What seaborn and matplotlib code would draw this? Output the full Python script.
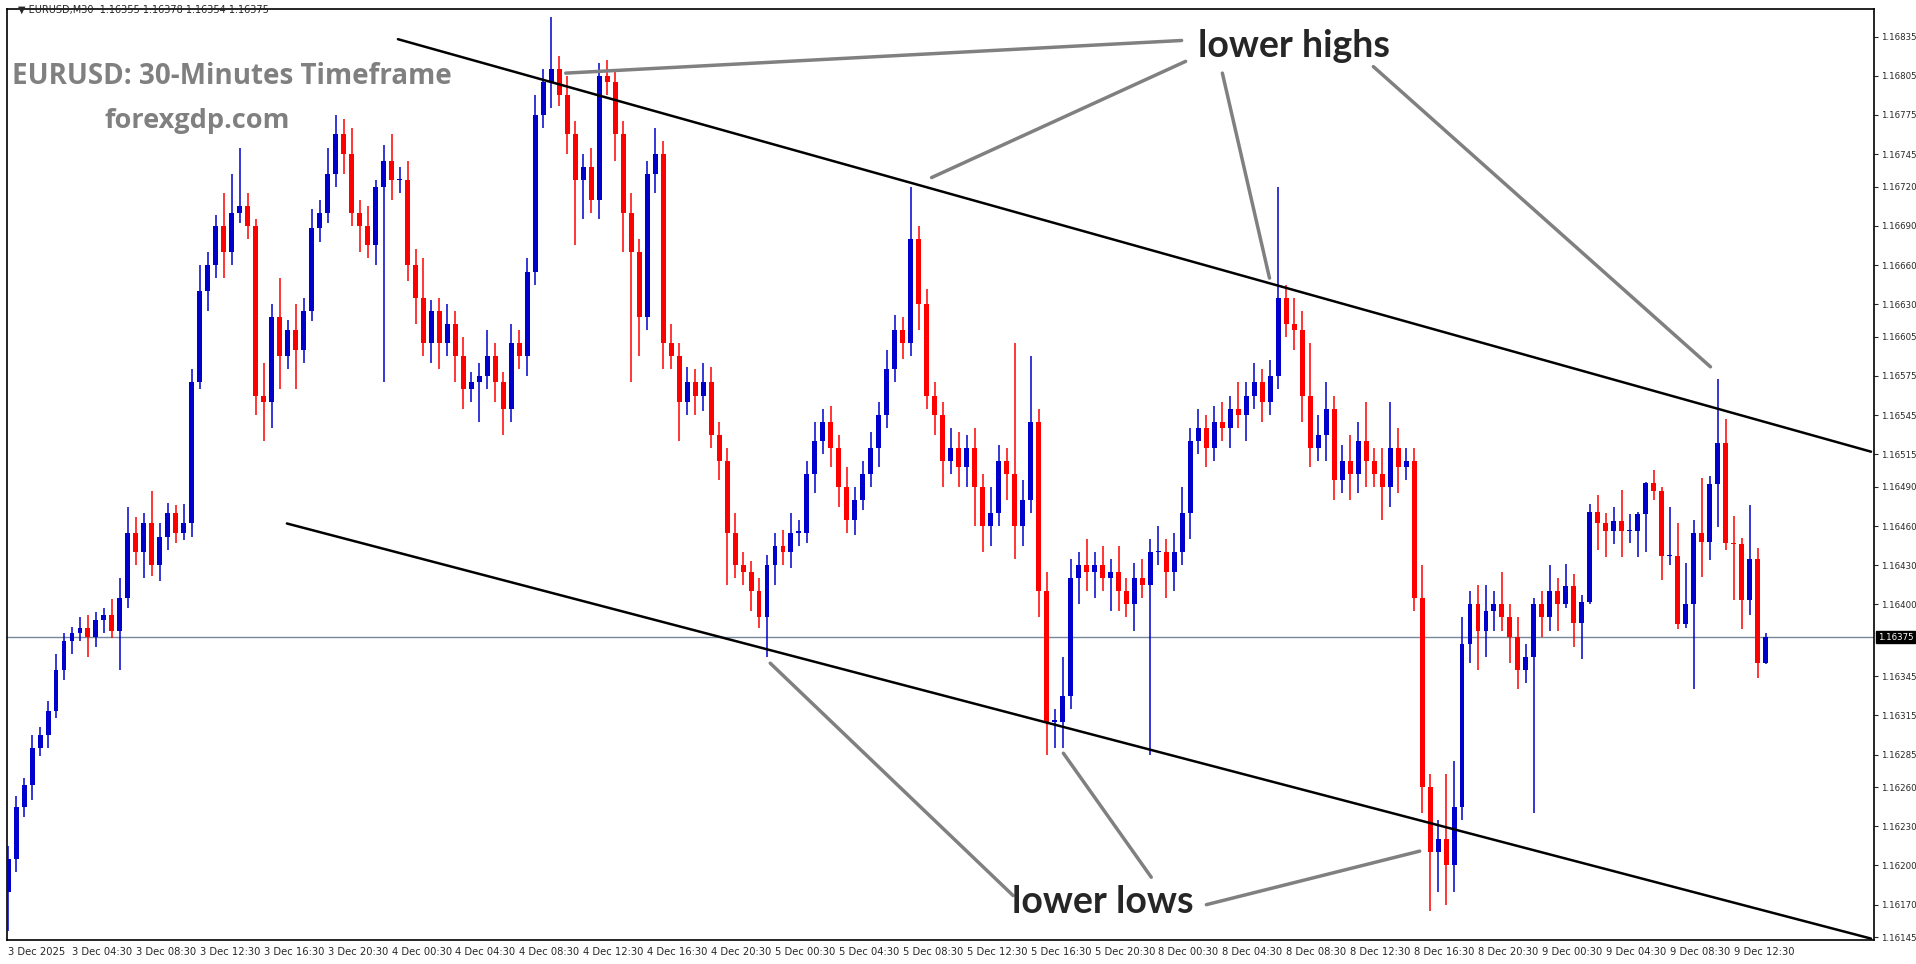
import numpy as np
import pandas as pd
import matplotlib
matplotlib.use("Agg")
import matplotlib.pyplot as plt
import seaborn as sns

# close prices in points above 1.16000 (30-minute bars)
closes = [
    205, 245, 262, 290, 300, 318, 350, 372,
    378, 382, 375, 388, 392, 380, 405, 455,
    440, 462, 430, 452, 470, 455, 462, 570,
    640, 660, 690, 670, 700, 705, 690, 560,
    555, 620, 590, 610, 595, 625, 688, 700,
    730, 760, 745, 700, 690, 675, 720, 740,
    725, 725, 660, 635, 600, 625, 600, 615,
    590, 565, 570, 575, 590, 570, 550, 600,
    590, 655, 775, 800, 810, 790, 760, 725,
    735, 710, 805, 800, 760, 700, 670, 620,
    730, 745, 600, 590, 555, 570, 560, 570,
    530, 510, 455, 430, 425, 410, 390, 430,
    445, 440, 455, 455, 500, 525, 540, 520,
    490, 465, 480, 500, 520, 545, 580, 610,
    600, 680, 630, 560, 545, 510, 520, 505,
    520, 490, 460, 470, 510, 500, 460, 480,
    540, 410, 310, 310, 330, 420, 430, 425,
    430, 420, 425, 410, 400, 420, 415, 440,
    440, 425, 440, 470, 525, 535, 520, 540,
    535, 550, 545, 560, 570, 555, 575, 635,
    615, 610, 560, 520, 530, 550, 495, 510,
    500, 525, 510, 500, 490, 520, 505, 510,
    405, 260, 210, 220, 200, 245, 370, 400,
    380, 395, 400, 390, 375, 350, 360, 400,
    390, 410, 400,
    414, 386, 402, 471, 462, 456, 464, 456, 456, 469, 493, 487, 437,
    437, 385, 400, 455, 448, 492, 524, 447, 446, 403, 435, 355, 375,
]
upper_wick = [
    10, 8, 5, 10, 6, 8, 12, 6,
    5, 8, 10, 6, 5, 12, 15, 20,
    12, 8, 25, 10, 8, 6, 15, 10,
    20, 10, 8, 25, 30, 45, 10, 5,
    25, 10, 30, 8, 20, 10, 15, 10,
    20, 15, 12, 20, 10, 15, 5, 12,
    20, 10, 15, 12, 30, 8, 10, 15,
    10, 15, 8, 10, 20, 10, 8, 15,
    10, 10, 15, 10, 40, 10, 15, 10,
    10, 15, 10, 12, 10, 10, 15, 10,
    10, 20, 10, 15, 10, 12, 10, 15,
    12, 10, 10, 15, 10, 8, 10, 8,
    10, 12, 15, 10, 10, 15, 10, 12,
    10, 15, 10, 10, 12, 10, 15, 12,
    10, 40, 10, 12, 10, 10, 15, 12,
    10, 15, 10, 20, 12, 10, 100, 15,
    50, 10, 15, 10, 30, 15, 10, 20,
    10, 15, 10, 20, 10, 12, 15, 10,
    20, 10, 15, 20, 10, 15, 10, 12,
    15, 10, 20, 10, 15, 10, 12, 85,
    10, 20, 15, 40, 15, 20, 10, 12,
    20, 15, 30, 10, 20, 35, 15, 10,
    10, 25, 10, 15, 50, 35, 20, 10,
    15, 20, 10, 25, 10, 15, 10, 5,
    10, 20, 10,
    17, 9, 5, 6, 13, 8, 11, 24, 13, 2, 1, 10, 3,
    38, 25, 32, 10, 42, 6, 49, 18, 21, 5, 41, 8, 3,
]
lower_wick = [
    30, 10, 8, 12, 6, 10, 5, 8,
    10, 6, 15, 8, 10, 6, 30, 8,
    10, 20, 8, 12, 10, 8, 6, 10,
    5, 15, 10, 20, 10, 8, 10, 15,
    30, 20, 25, 10, 30, 10, 8, 10,
    8, 10, 15, 10, 20, 10, 15, 150,
    15, 10, 12, 20, 10, 15, 20, 10,
    20, 15, 10, 30, 10, 15, 20, 10,
    10, 15, 10, 10, 20, 8, 15, 50,
    30, 10, 15, 10, 20, 30, 100, 30,
    10, 15, 20, 10, 30, 10, 15, 12,
    10, 15, 40, 10, 10, 15, 8, 30,
    15, 10, 12, 10, 8, 15, 10, 15,
    15, 10, 12, 8, 10, 15, 10, 10,
    12, 10, 20, 10, 15, 20, 10, 15,
    15, 30, 20, 15, 10, 20, 25, 15,
    10, 20, 25, 20, 20, 10, 20, 15,
    20, 10, 25, 15, 10, 20, 10, 130,
    10, 20, 15, 10, 20, 10, 15, 10,
    10, 15, 10, 20, 10, 15, 10, 10,
    10, 15, 20, 15, 10, 20, 15, 10,
    20, 15, 20, 10, 25, 15, 20, 10,
    10, 20, 45, 30, 30, 20, 10, 15,
    30, 20, 15, 10, 20, 15, 10, 120,
    15, 10, 20,
    3, 19, 28, 2, 20, 20, 10, 20, 9, 20, 29, 7, 18,
    7, 4, 3, 65, 27, 14, 33, 5, 43, 22, 11, 11, 1,
]
first_open = 180

tick_labels = [
    "3 Dec 2025", "3 Dec 04:30", "3 Dec 08:30", "3 Dec 12:30", "3 Dec 16:30", "3 Dec 20:30",
    "4 Dec 00:30", "4 Dec 04:30", "4 Dec 08:30", "4 Dec 12:30", "4 Dec 16:30", "4 Dec 20:30",
    "5 Dec 00:30", "5 Dec 04:30", "5 Dec 08:30", "5 Dec 12:30", "5 Dec 16:30", "5 Dec 20:30",
    "8 Dec 00:30", "8 Dec 04:30", "8 Dec 08:30", "8 Dec 12:30", "8 Dec 16:30", "8 Dec 20:30",
    "9 Dec 00:30", "9 Dec 04:30", "9 Dec 08:30", "9 Dec 12:30",
]
price_ticks = [1.16835, 1.16805, 1.16775, 1.16745, 1.16720, 1.16690, 1.16660, 1.16630,
               1.16605, 1.16575, 1.16545, 1.16515, 1.16490, 1.16460, 1.16430, 1.16400,
               1.16345, 1.16315, 1.16285, 1.16260, 1.16230, 1.16200, 1.16170, 1.16145]
last_price = 1.16375

# channel lines drawn on the chart: (bar, price)
upper_channel = [(48.8, 1.16833), (233.2, 1.16517)]
lower_channel = [(34.9, 1.16462), (233.2, 1.16144)]

# annotation pointers: (text anchor) -> (target)
highs_pointers = [((146.9, 1.16832), (69.8, 1.16807)),
                  ((147.4, 1.16816), (115.6, 1.16727)),
                  ((152.0, 1.16807), (157.9, 1.16650)),
                  ((170.9, 1.16812), (213.1, 1.16582))]
lows_pointers = [((125.8, 1.16177), (95.4, 1.16355)),
                 ((143.1, 1.16191), (132.1, 1.16286)),
                 ((150.0, 1.16170), (176.7, 1.16211))]

df = pd.DataFrame({"close": closes, "up": upper_wick, "lo": lower_wick})
df["open"] = df["close"].shift(1).fillna(first_open)
df["high"] = df[["open", "close"]].max(axis=1) + df["up"]
df["low"] = df[["open", "close"]].min(axis=1) - df["lo"]
for c in ["open", "close", "high", "low"]:
    df[c] = 1.16 + df[c] / 1e5
df["bar"] = np.arange(len(df))
df["bull"] = df["close"] >= df["open"]

sns.set_style("white")
plt.rcParams["font.family"] = ["DejaVu Sans"]

fig = plt.figure(figsize=(19.16, 9.64), dpi=100)
ax = fig.add_axes([0.0037, 0.025, 0.9745, 0.9655])

blue = "#0000CD"
red = "#FF0000"
colors = np.where(df["bull"], blue, red)

ax.vlines(df["bar"], df["low"], df["high"], colors=colors, linewidth=1.1, zorder=3)
body = (df["close"] - df["open"]).abs().clip(lower=0.000012)
ax.bar(df["bar"], body, bottom=df[["open", "close"]].min(axis=1), width=0.62,
       color=colors, linewidth=0, zorder=4)

# channel
for line in [upper_channel, lower_channel]:
    xs, ys = zip(*line)
    ax.plot(xs, ys, color="black", linewidth=1.8, zorder=5)

for (a, b) in highs_pointers + lows_pointers:
    ax.plot([a[0], b[0]], [a[1], b[1]], color="#808080", linewidth=2.5, zorder=5)

ax.text(161, 1.16828, "lower highs", fontsize=27, fontweight="bold", family=["Lato", "DejaVu Sans"],
        ha="center", va="center", zorder=6)
ax.text(137, 1.16172, "lower lows", fontsize=27, fontweight="bold", family=["Lato", "DejaVu Sans"],
        ha="center", va="center", zorder=6)

# current price line
ax.axhline(last_price, color="#778899", linewidth=1, zorder=2)

ax.set_xlim(-0.125, 233.6)
ax.set_ylim(1.16143, 1.16856)

ax.set_xticks(np.arange(len(tick_labels)) * 8)
ax.set_xticklabels(tick_labels, fontsize=7.2, ha="left")
ax.tick_params(axis="x", length=4, pad=1)

ax.yaxis.tick_right()
ax.set_yticks(price_ticks)
ax.set_yticklabels([f"{p:.5f}" for p in price_ticks], fontsize=6.2)
ax.tick_params(axis="y", length=3, pad=2)
ax.text(1.002, last_price, f"{last_price:.5f}", transform=ax.get_yaxis_transform(),
        fontsize=6.2, color="white", va="center", ha="left",
        bbox=dict(facecolor="black", edgecolor="black", pad=1.2))

for s in ax.spines.values():
    s.set_color("black")
    s.set_linewidth(1.2)

fig.text(0.121, 0.921, "EURUSD: 30-Minutes Timeframe", fontsize=20, fontweight="bold",
         color="#808080", ha="center", va="center", family=["Open Sans", "DejaVu Sans"])
fig.text(0.103, 0.874, "forexgdp.com", fontsize=19.5, fontweight="bold",
         color="#808080", ha="center", va="center", family=["Open Sans", "DejaVu Sans"])
fig.text(0.0095, 0.9895, "\u25bc EURUSD,M30  1.16355 1.16378 1.16354 1.16375", fontsize=7,
         ha="left", va="center")

fig.savefig("out.png", dpi=100, facecolor="white")
